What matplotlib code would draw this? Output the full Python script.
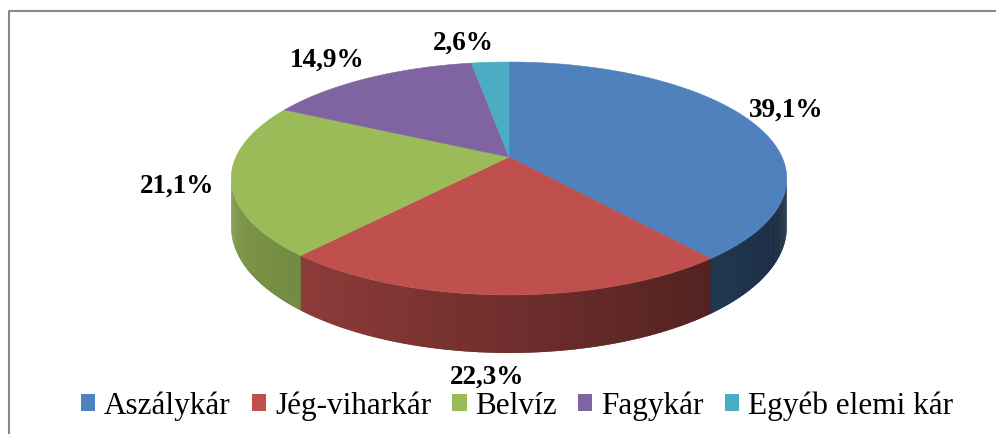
import numpy as np
import matplotlib
matplotlib.use("Agg")
import matplotlib.pyplot as plt
from matplotlib.patches import Polygon, Patch
from matplotlib.colors import to_rgb

# ---- data ----
categories = ["Aszálykár", "Jég-viharkár", "Belvíz", "Fagykár", "Egyéb elemi kár"]
values = [39.1, 22.3, 21.1, 14.9, 2.6]
value_labels = ["39,1%", "22,3%", "21,1%", "14,9%", "2,6%"]

# ---- style ----
colors = ["#4F81BD", "#C0504D", "#9BBB59", "#8064A2", "#4BACC6"]
label_pos = [(786, 110), (487, 377), (177, 186), (327, 60), (463, 43)]
SERIF = "Liberation Serif"

W, H = 996, 434
fig = plt.figure(figsize=(W / 100, H / 100), dpi=100)
ax = fig.add_axes([0, 0, 1, 1])
ax.set_xlim(0, W)
ax.set_ylim(H, 0)
ax.axis("off")

# projection of the 3-D pie (perspective ellipse)
cx, cy = 509.0, 157.0
A, B, k, D = 273.0, 112.5, 0.1845, 47.3


def proj(theta_deg, r=1.0, z=0.0):
    t = np.radians(theta_deg)
    u = r * np.sin(t)
    v = r * np.cos(t)
    den = 1 + k * v
    x = cx + A * u / den
    y = cy - B * v / den + z * D / den
    return x, y


total = float(sum(values))
bounds = np.concatenate([[0], np.cumsum(values)]) / total * 360.0

vis_lo = np.degrees(np.arccos(-k))
vis_hi = 360 - vis_lo

# side faces (shaded strips, overlapping to avoid seams)
for i, col in enumerate(colors):
    a0, a1 = max(bounds[i], vis_lo), min(bounds[i + 1], vis_hi)
    if a1 <= a0:
        continue
    n = max(2, int((a1 - a0) / 0.5))
    ts = np.linspace(a0, a1, n + 1)
    step = ts[1] - ts[0]
    lim = a1 + 0.6 if a1 < vis_hi else a1
    base = np.array(to_rgb(col))
    for t0, t1 in zip(ts[:-1], ts[1:]):
        tm = 0.5 * (t0 + t1)
        u = np.sin(np.radians(tm))
        f = 0.58 - 0.24 * u
        c = np.clip(base * f, 0, 1)
        te = min(t1 + 0.8 * step, lim)
        pts = [proj(t0), proj(te), proj(te, z=1), proj(t0, z=1)]
        ax.add_patch(Polygon(pts, closed=True, facecolor=c, edgecolor="none", lw=0))

# top faces
for i, col in enumerate(colors):
    ts = np.linspace(bounds[i], bounds[i + 1], max(3, int(values[i] * 4)))
    pts = [proj(0, r=0)] + [proj(t) for t in ts]
    ax.add_patch(Polygon(pts, closed=True, facecolor=col, edgecolor=col, lw=0.4))

# value labels
for (x, y), s in zip(label_pos, value_labels):
    ax.text(x, y, s, ha="center", va="center", fontsize=19.5, fontweight="bold",
            family=SERIF, color="black")

# frame
ax.plot([9, 9, W], [H, 11, 11], color="#888888", lw=1.5, solid_capstyle="butt")

# legend
handles = [Patch(facecolor=c, edgecolor="none") for c in colors]
ax.legend(handles, categories, loc="center", bbox_to_anchor=(517 / W, 1 - 406 / H),
          bbox_transform=fig.transFigure, ncol=5, frameon=False,
          prop={"family": SERIF, "size": 22.5}, handlelength=0.45, handleheight=0.45,
          handletextpad=0.28, columnspacing=0.68, borderpad=0, borderaxespad=0)

fig.savefig("out.png", dpi=100)
